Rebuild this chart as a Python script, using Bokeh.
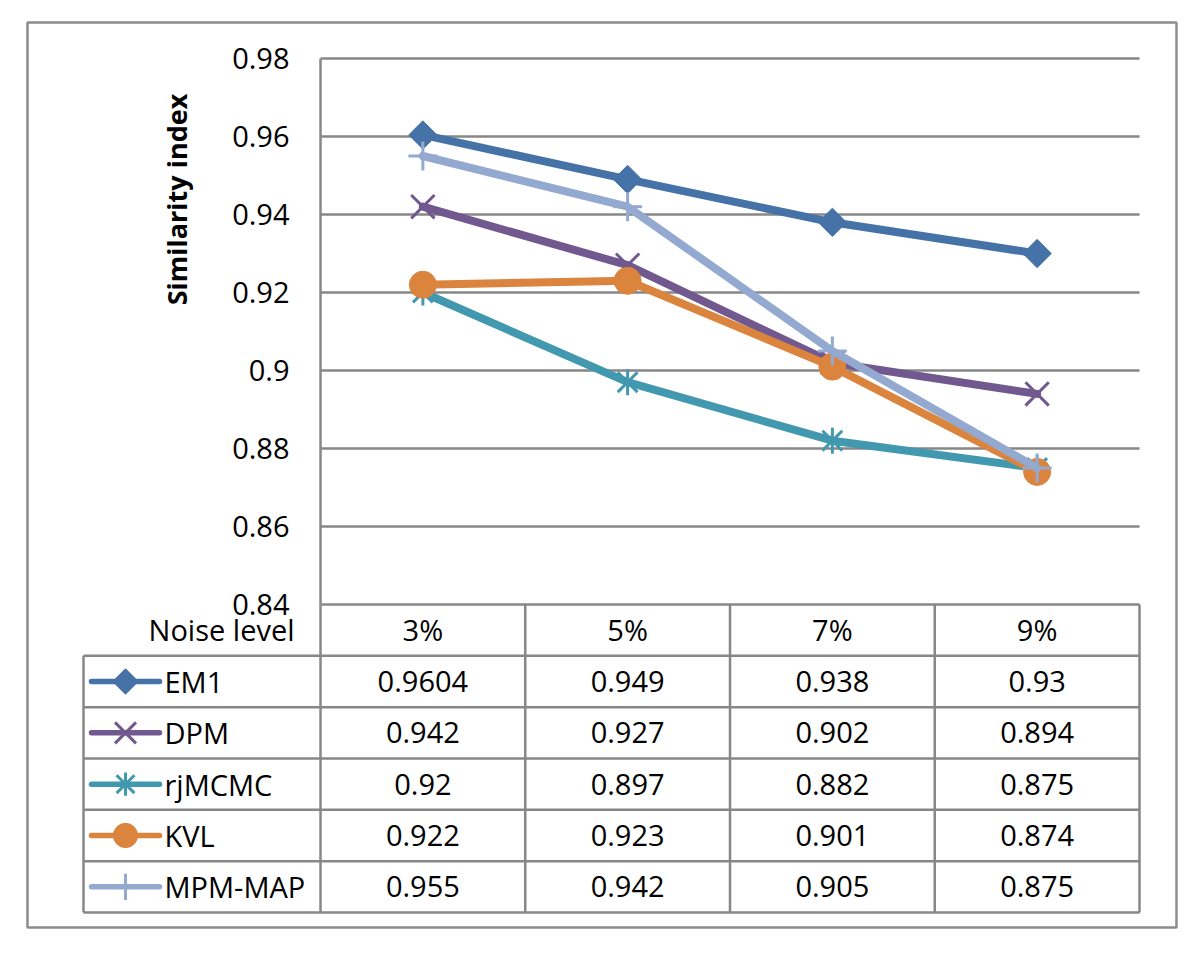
import numpy as np
from bokeh.plotting import figure
from bokeh.models import Range1d
from bokeh.core.properties import value
from bokeh.embed import file_html
from bokeh.resources import INLINE

# ---------------- data ----------------
noise_levels = ["3%", "5%", "7%", "9%"]
series_names = ["EM1", "DPM", "rjMCMC", "KVL", "MPM-MAP"]
em1 = [0.9604, 0.949, 0.938, 0.93]
dpm = [0.942, 0.927, 0.902, 0.894]
rjmcmc = [0.92, 0.897, 0.882, 0.875]
kvl = [0.922, 0.923, 0.901, 0.874]
mpm_map = [0.955, 0.942, 0.905, 0.875]
y_ticks = [0.84, 0.86, 0.88, 0.90, 0.92, 0.94, 0.96, 0.98]
y_tick_labels = ["0.84", "0.86", "0.88", "0.9", "0.92", "0.94", "0.96", "0.98"]
y_title = "Similarity index"
x_title = "Noise level"

series_values = [em1, dpm, rjmcmc, kvl, mpm_map]
colors = ["#4572A7", "#71588F", "#4198AF", "#DB843D", "#93A9CF"]

# ---------------- layout (page pixels) ----------------
FIG_W, FIG_H = 1180, 940
BOX_L, BOX_T, BOX_R, BOX_B = 27, 22, 1176, 927
PLOT_L, PLOT_R, PLOT_T, PLOT_B = 320, 1139, 58, 604
TABLE_L, TABLE_B = 83, 912
Y_TOP, Y_BOT = 0.98, 0.84
NCOL = len(noise_levels)
NROW = len(series_names) + 1

xppu = (PLOT_R - PLOT_L) / NCOL
yppu = (PLOT_B - PLOT_T) / (Y_TOP - Y_BOT)
row_h = (TABLE_B - PLOT_B) / NROW

def px_x(px):
    return (px - PLOT_L) / xppu

def px_y(py):
    return Y_TOP - (py - PLOT_T) / yppu

x_range = Range1d(px_x(BOX_L), px_x(BOX_R))
y_range = Range1d(px_y(BOX_B), px_y(BOX_T))

p = figure(width=FIG_W, height=FIG_H, x_range=x_range, y_range=y_range,
           x_axis_type=None, y_axis_type=None,
           output_backend="svg", toolbar_location=None,
           min_border_left=BOX_L, min_border_top=BOX_T,
           min_border_right=FIG_W - BOX_R,
           min_border_bottom=FIG_H - BOX_B)
p.extra_y_ranges = {"tbl": Range1d(-(BOX_B - PLOT_B) / row_h, (PLOT_B - BOX_T) / row_h)}
p.outline_line_color = "#8c8c8c"
p.outline_line_width = 2.5
p.background_fill_color = "white"
p.border_fill_color = "white"

GRID = "#878787"
FONT = value("Open Sans")
FS = "29px"

# gridlines
gt = [t for t in y_ticks if t > Y_BOT]
p.segment(x0=[0] * len(gt), x1=[NCOL] * len(gt), y0=gt, y1=gt, line_color=GRID, line_width=2.5)
# y axis line
p.segment(x0=[0], x1=[0], y0=[Y_BOT], y1=[Y_TOP], line_color=GRID, line_width=2.5)

# table lines
hy = [0] + [-(k + 1) for k in range(NROW)]
hx0 = [0] + [px_x(TABLE_L)] * NROW
p.segment(x0=hx0, x1=[NCOL] * len(hy), y0=hy, y1=hy, line_color=GRID, line_width=2.5,
          y_range_name="tbl")
vx = list(range(NCOL + 1))
p.segment(x0=vx, x1=vx, y0=[0] * len(vx), y1=[-NROW] * len(vx), line_color=GRID,
          line_width=2.5, y_range_name="tbl")
p.segment(x0=[px_x(TABLE_L)], x1=[px_x(TABLE_L)], y0=[-1], y1=[-NROW], line_color=GRID,
          line_width=2.5, y_range_name="tbl")

# tick labels
p.text(x=[px_x(289)] * len(y_ticks), y=y_ticks, text=y_tick_labels, text_font=FONT,
       text_font_size=FS, text_align="right", text_baseline="middle", text_color="black")
# y title
p.text(x=[px_x(176)], y=[px_y(199)], text=[y_title], angle=np.pi / 2, text_font=FONT,
       text_font_size="27px", text_font_style="bold", text_align="center",
       text_baseline="middle", text_color="black")

# header row
xc = [i + 0.5 for i in range(NCOL)]
p.text(x=[px_x(294)], y=[-0.48], text=[x_title], text_font=FONT, text_font_size=FS,
       text_align="right", text_baseline="middle", y_range_name="tbl", text_color="black")
p.text(x=xc, y=[-0.48] * NCOL, text=noise_levels, text_font=FONT, text_font_size=FS,
       text_align="center", text_baseline="middle", y_range_name="tbl", text_color="black")

# series
LW = 8
leg_x0, leg_x1, leg_xm, leg_tx = px_x(91), px_x(159), px_x(125), px_x(164)

def draw_marker(idx, xs, ys, color, scale=1.0, **kw):
    if idx == 0:
        p.scatter(xs, ys, marker="square", angle=np.pi / 4, size=20 * scale,
                  fill_color=color, line_color=color, **kw)
    elif idx == 1:
        p.scatter(xs, ys, marker="x", size=33 * scale, line_color=color, line_width=3, **kw)
    elif idx == 2:
        p.scatter(xs, ys, marker="x", size=28 * scale, line_color=color, line_width=3, **kw)
        p.scatter(xs, ys, marker="dash", angle=np.pi / 2, size=26 * scale, line_color=color,
                  line_width=3, **kw)
    elif idx == 3:
        p.scatter(xs, ys, marker="circle", size=27 * scale, fill_color=color,
                  line_color=color, **kw)
    else:
        p.scatter(xs, ys, marker="cross", size=29 * scale, line_color=color,
                  line_width=3, **kw)

for idx, (name, vals, col) in enumerate(zip(series_names, series_values, colors)):
    p.line(xc, vals, line_color=col, line_width=LW, line_join="round", line_cap="round")
    draw_marker(idx, xc, vals, col)
    r = idx + 1
    yc = -(r + 0.5)
    p.line([leg_x0, leg_x1], [yc, yc], line_color=col, line_width=5.5, line_cap="round",
           y_range_name="tbl")
    draw_marker(idx, [leg_xm], [yc], col, scale=0.9, y_range_name="tbl")
    p.text(x=[leg_tx], y=[yc], text=[name], text_font=FONT, text_font_size=FS,
           text_align="left", text_baseline="middle", y_range_name="tbl", text_color="black")
    p.text(x=xc, y=[yc] * NCOL, text=[f"{v:g}" for v in vals], text_font=FONT,
           text_font_size=FS, text_align="center", text_baseline="middle",
           y_range_name="tbl", text_color="black")

open("out.html", "w").write(file_html(p, INLINE))
